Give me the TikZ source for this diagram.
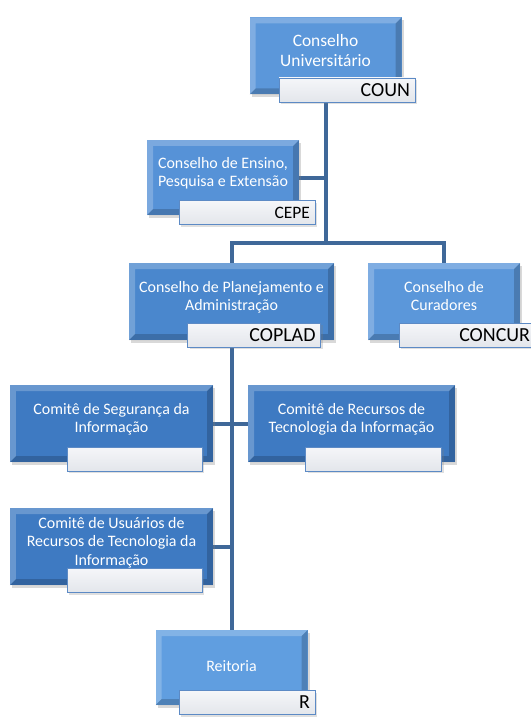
\documentclass[tikz,border=0pt]{standalone}
\usepackage{fontspec}
\setmainfont{Carlito}
\usetikzlibrary{shadows,backgrounds}

\definecolor{counblue}{HTML}{5B97DA}
\definecolor{cepeblue}{HTML}{5692D7}
\definecolor{copladblue}{HTML}{4A87CD}
\definecolor{comblue}{HTML}{3E7AC2}
\definecolor{reiblue}{HTML}{609EE0}
\definecolor{linkblue}{HTML}{3F6899}
\definecolor{tagedge}{HTML}{5C8AC5}
\definecolor{tagtop}{HTML}{F5F6F9}
\definecolor{tagbottom}{HTML}{E3E6EB}

% text of a unit, raised a little above the tag
\newcommand{\unittext}[2][3.5bp]{\raisebox{#1}[\height][\depth]{\begin{tabular}{@{}c@{}}#2\end{tabular}}}

\tikzset{
  unitbox/.style={minimum width=152bp, minimum height=77bp, inner sep=0pt,
    text=white, font=\fontsize{16}{18.5}\selectfont,
    drop shadow={shadow xshift=2bp, shadow yshift=-3bp, opacity=.3},
    path picture={
      \fill[white, opacity=.22] (path picture bounding box.south west)
        -- (path picture bounding box.north west) -- (path picture bounding box.north east)
        -- ([shift={(-6bp,-6bp)}]path picture bounding box.north east)
        -- ([shift={(6bp,-6bp)}]path picture bounding box.north west)
        -- ([shift={(6bp,6bp)}]path picture bounding box.south west) -- cycle;
      \fill[black, opacity=.18] (path picture bounding box.south west)
        -- (path picture bounding box.south east) -- (path picture bounding box.north east)
        -- ([shift={(-6bp,-6bp)}]path picture bounding box.north east)
        -- ([shift={(-6bp,6bp)}]path picture bounding box.south east)
        -- ([shift={(6bp,6bp)}]path picture bounding box.south west) -- cycle;
    }},
  tagbox/.style={draw=tagedge, line width=.8bp, top color=tagtop, bottom color=tagbottom,
    minimum height=24bp, text width=126bp, align=right, inner xsep=5bp, inner ysep=0pt,
    text=black, font=\fontsize{20}{24}\selectfont,
    drop shadow={shadow xshift=2bp, shadow yshift=-2bp, opacity=.25}},
  link/.style={draw=linkblue, line width=4bp}
}

\begin{document}
\begin{tikzpicture}[x=1bp, y=-1bp]
  \useasboundingbox (0,0) rectangle (531,717);

  % councils
  \node[unitbox, fill=counblue, font=\fontsize{17.5}{20.5}\selectfont] (coun) at (325.5,56) {\unittext{Conselho\\Universitário}};
  \node[tagbox] (counTag) at (347,90) {COUN};

  \node[unitbox, fill=cepeblue, minimum height=75bp] (cepe) at (223,177.5) {\unittext{Conselho de Ensino,\\Pesquisa e Extensão}};
  \node[tagbox, font=\fontsize{17.5}{20}\selectfont] (cepeTag) at (247,212.5) {CEPE};

  \node[unitbox, fill=copladblue, minimum width=205bp] (coplad) at (231.5,301.5) {\unittext{Conselho de Planejamento e\\Administração}};
  \node[tagbox, text width=123bp] (copladTag) at (254,335) {COPLAD};

  \node[unitbox, fill=counblue] (concur) at (444,301.5) {\unittext{Conselho de\\Curadores}};
  \node[tagbox] (concurTag) at (467,335) {CONCUR};

  % committees
  \node[unitbox, fill=comblue, minimum width=203bp] (seg) at (111.5,423.5) {\unittext{Comitê de Segurança da\\Informação}};
  \node[tagbox, text width=125bp] (segTag) at (134.5,459) {};

  \node[unitbox, fill=comblue, minimum width=207bp] (rec) at (351.5,423.5) {\unittext{Comitê de Recursos de\\Tecnologia da Informação}};
  \node[tagbox] (recTag) at (373.5,459) {};

  \node[unitbox, fill=comblue, minimum width=203bp] (usu) at (111.5,546.5) {\unittext{Comitê de Usuários de\\Recursos de Tecnologia da\\Informação}};
  \node[tagbox, text width=125bp] (usuTag) at (134.5,580.5) {};

  \node[unitbox, fill=reiblue, minimum height=75bp] (rei) at (231.5,667.5) {\unittext[0bp]{Reitoria}};
  \node[tagbox] (reiTag) at (247,702.5) {R};

  % connectors
  \begin{scope}[on background layer]
    \coordinate (split) at (325.5,243);
    \draw[link] (coun.south) -- (split);
    \draw[link] (coun.south) |- (cepe.east);
    \draw[link] (coplad.north) |- (split) -| (concur.north);
    \draw[link] (coplad.south) -- (rei.north);
    \draw[link] (seg.east) -- (rec.west);
    \draw[link] (usu.east) -- (usu.east -| coplad.south);
  \end{scope}
\end{tikzpicture}
\end{document}
